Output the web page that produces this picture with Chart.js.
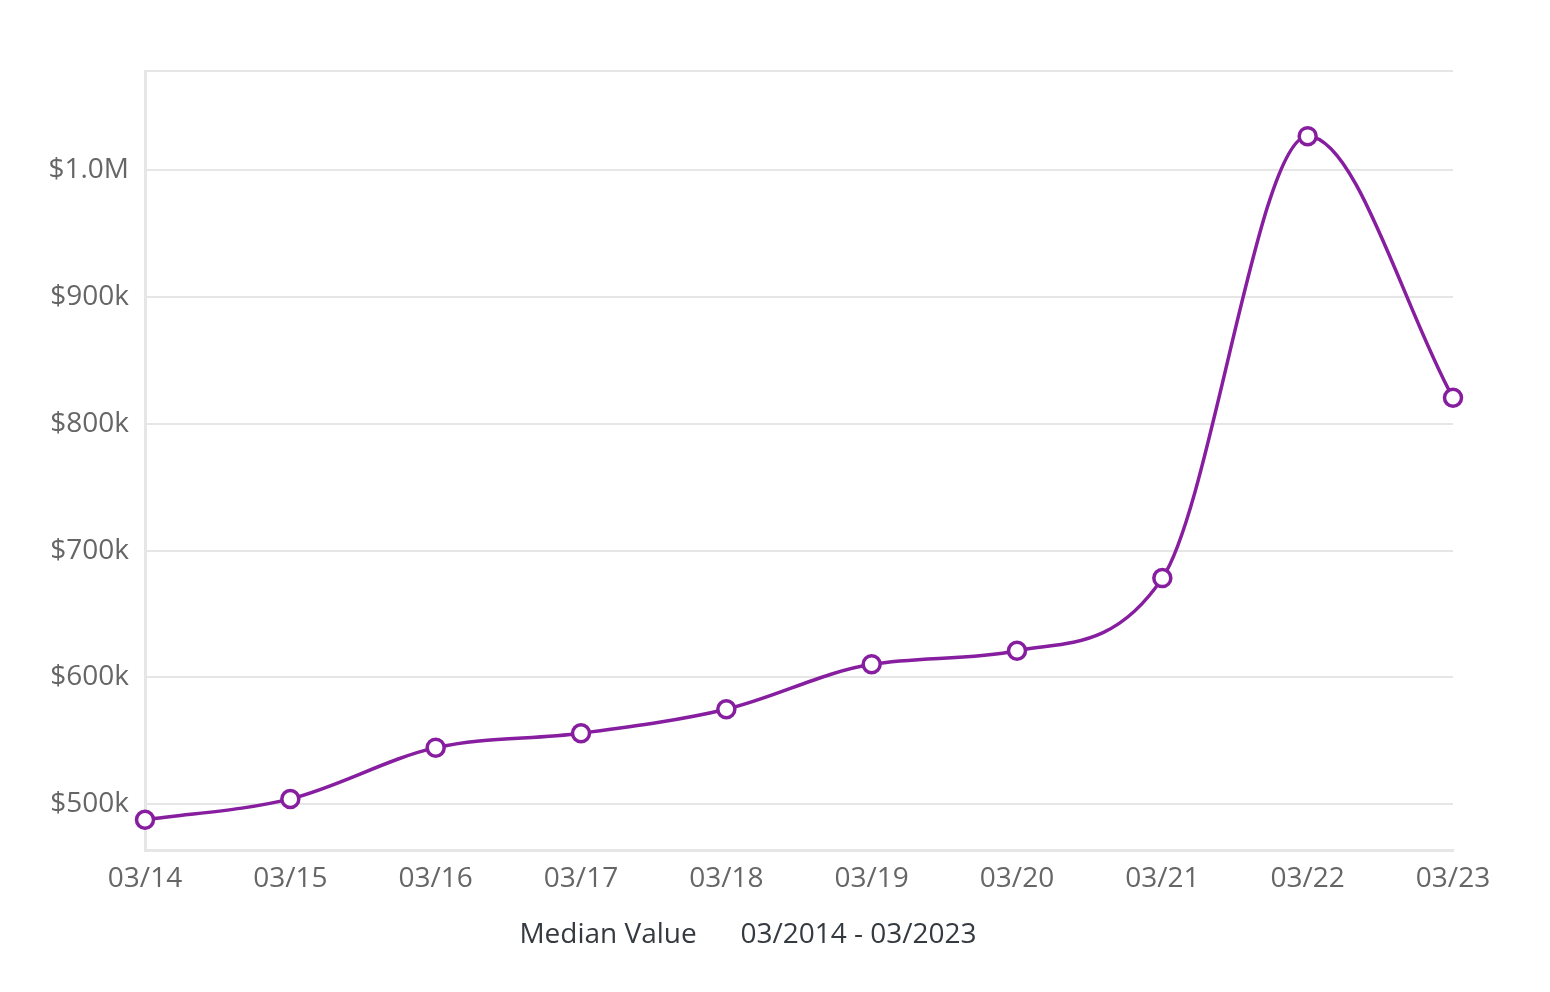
<!DOCTYPE html>
<html lang="en">
<head>
    <meta charset="UTF-8">
    <title>Median Value</title>
    <script src="https://cdn.jsdelivr.net/npm/chart.js"></script>
    <style>
        html, body {
            margin: 0;
            padding: 0;
            background: #ffffff;
        }
        #wrap {
            width: 1550px;
            height: 992px;
            position: relative;
        }
    </style>
</head>
<body>
    <div id="wrap">
        <canvas id="valueChart"></canvas>
    </div>
    <script>
        // data
        const labels = ['03/14', '03/15', '03/16', '03/17', '03/18', '03/19', '03/20', '03/21', '03/22', '03/23'];
        const medianValues = [487800, 504300, 544700, 556100, 575000, 610400, 621100, 678300, 1026600, 820500];
        const yTickValues = [500000, 600000, 700000, 800000, 900000, 1000000];
        const seriesName = 'Median Value';
        const periodText = '03/2014 - 03/2023';

        const purple = '#861e9f';
        const gridColor = '#e6e6e6';
        const fontFamily = "'Open Sans', sans-serif";

        // axis runs 5% below the lowest and 5% above the highest value
        const yMin = Math.min(...medianValues) * 0.95;
        const yMax = Math.max(...medianValues) * 1.05;

        function money(v) {
            if (!yTickValues.includes(v)) return '';
            if (v >= 1000000) return '$' + (v / 1000000).toFixed(1) + 'M';
            return '$' + (v / 1000) + 'k';
        }

        const ctx = document.getElementById('valueChart').getContext('2d');
        new Chart(ctx, {
            type: 'line',
            data: {
                labels: labels,
                datasets: [{
                    label: seriesName,
                    data: medianValues,
                    borderColor: purple,
                    borderWidth: 3.5,
                    cubicInterpolationMode: 'monotone',
                    fill: false,
                    pointRadius: 8.5,
                    pointBorderWidth: 3.5,
                    pointBackgroundColor: '#ffffff',
                    pointBorderColor: purple,
                    clip: false
                }]
            },
            options: {
                responsive: true,
                maintainAspectRatio: false,
                animation: false,
                layout: {
                    padding: { top: 71, left: 43, right: 97, bottom: 40 }
                },
                plugins: {
                    legend: { display: false },
                    tooltip: { enabled: false },
                    title: {
                        display: true,
                        position: 'bottom',
                        text: seriesName + '      ' + periodText,
                        color: '#343a40',
                        font: { family: fontFamily, size: 28, weight: 'normal' },
                        padding: { top: 12, bottom: 0 }
                    }
                },
                scales: {
                    x: {
                        grid: { display: false, drawTicks: false },
                        border: { display: true, color: gridColor, width: 3 },
                        ticks: {
                            color: '#666666',
                            font: { family: fontFamily, size: 28 },
                            padding: 11,
                            maxRotation: 0,
                            autoSkip: false
                        }
                    },
                    y: {
                        min: yMin,
                        max: yMax,
                        afterFit: function(scale) { scale.width = 102; },
                        afterBuildTicks: function(scale) {
                            scale.ticks = [yMin].concat(yTickValues, [yMax]).map(function(v) { return { value: v }; });
                        },
                        grid: { color: gridColor, lineWidth: 2, drawTicks: false },
                        border: { display: true, color: gridColor, width: 3 },
                        ticks: {
                            color: '#666666',
                            font: { family: fontFamily, size: 28 },
                            padding: 16,
                            callback: money
                        }
                    }
                }
            }
        });
    </script>
</body>
</html>
